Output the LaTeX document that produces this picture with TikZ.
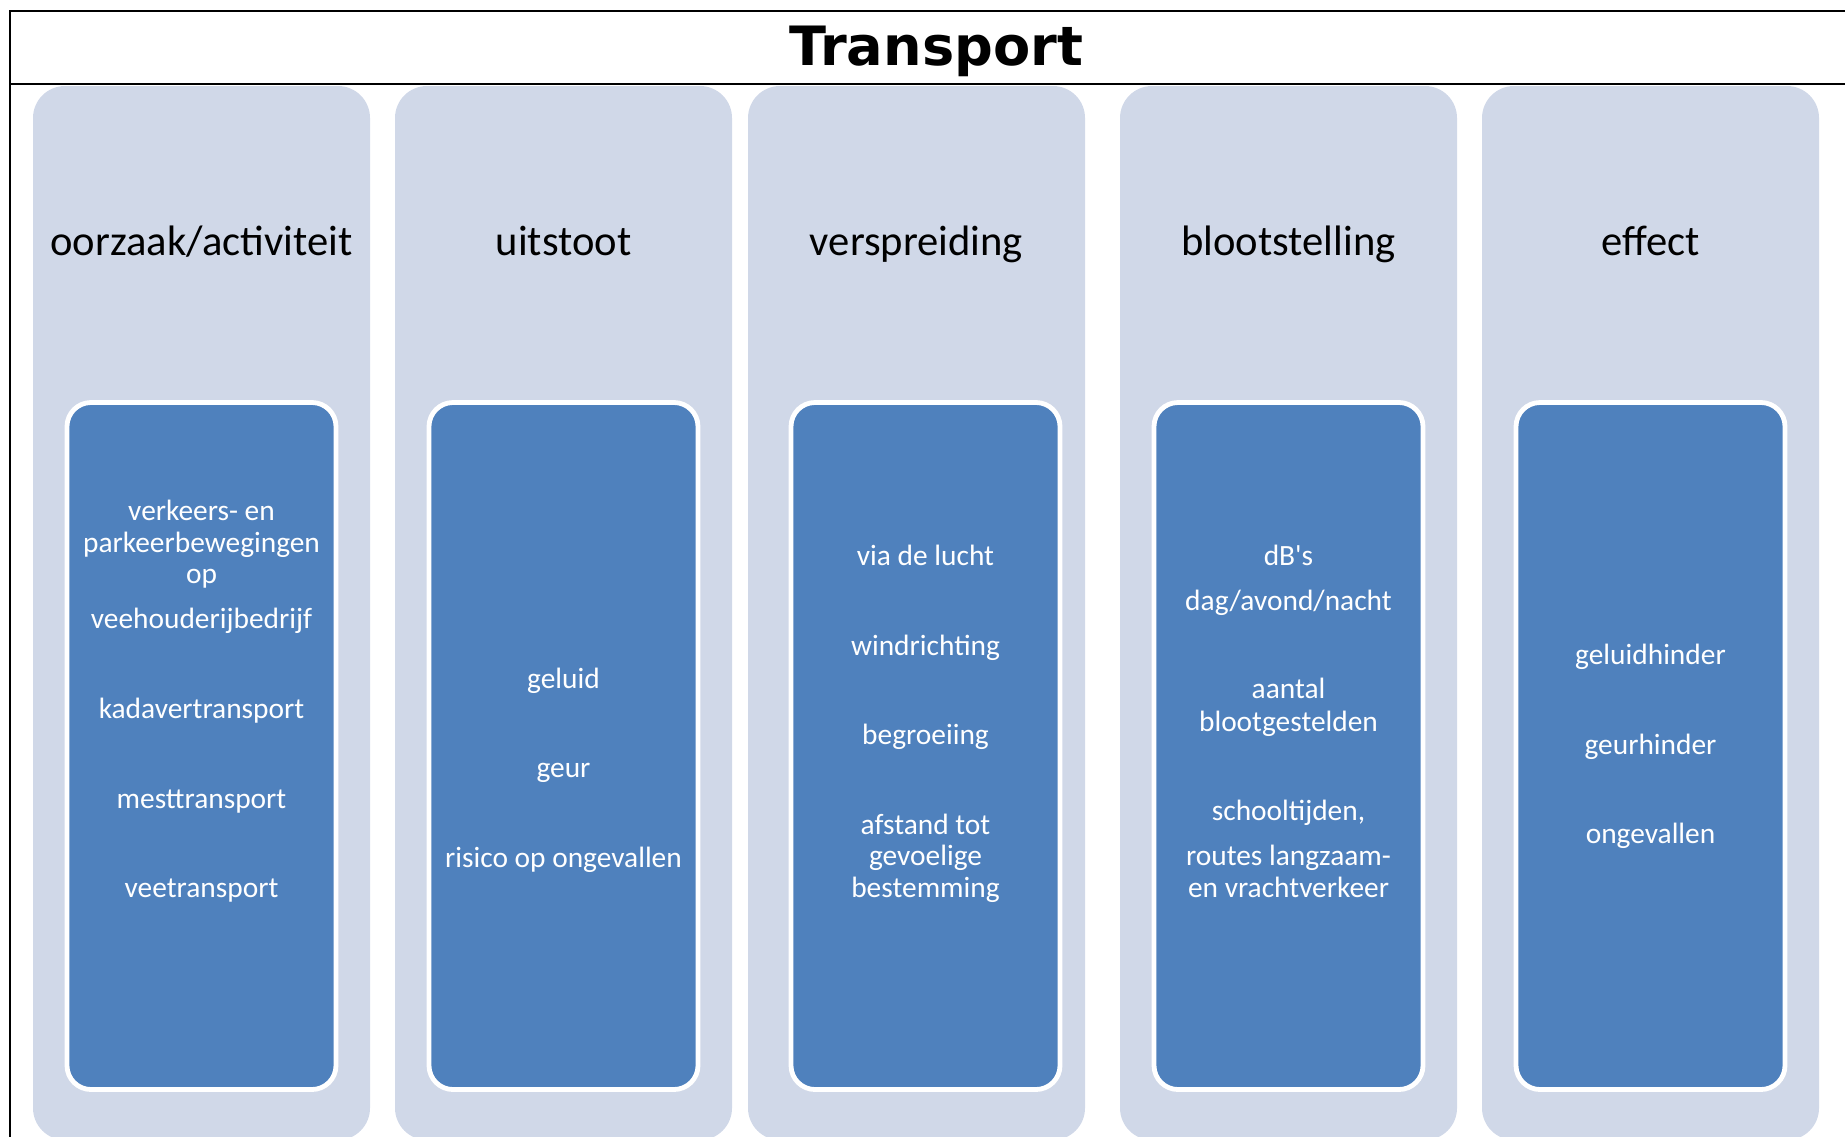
\documentclass[tikz,border=0pt]{standalone}
\usepackage{fontspec}
\setmainfont{Carlito}[Ligatures=TeXOff]
\newfontfamily\titlefont{DejaVu Sans}

\definecolor{kolom}{HTML}{D0D8E8}
\definecolor{vak}{HTML}{4F81BD}

\tikzset{
  kolombox/.style={fill=kolom, rounded corners=16pt},
  vakbox/.style={fill=vak, draw=white, line width=2.4pt, rounded corners=12pt},
  kop/.style={anchor=base, inner sep=0pt, font=\fontsize{21.3}{25}\selectfont},
  regel/.style={anchor=base, inner sep=0pt, text=white, font=\fontsize{14.7}{16}\selectfont},
  kader/.style={line width=1pt, black}
}

\begin{document}
\begin{tikzpicture}[x=0.5pt, y=-0.5pt]
  \useasboundingbox (0,0) rectangle (1845,1136);
  \clip (0,0) rectangle (1845,1136);

  % kader met titel
  \draw[kader] (1860,11) -- (10,11) -- (10,1140);
  \draw[kader] (10,84) -- (1860,84);
  \node (titel) at (936,65) [anchor=base, inner sep=0pt,
    font=\titlefont\bfseries\fontsize{27.1}{30}\selectfont] {Transport};

  % kolommen met kop en vak
  \foreach \l/\v/\kop [count=\i] in {33/67/{oorzaak/activiteit}, 395/429/uitstoot,
      748/791/verspreiding, 1120/1154/blootstelling, 1482/1516/effect} {
    \fill[kolombox] (\l,86) rectangle ++(337,1054);
    \draw[vakbox] (\v,402.5) rectangle ++(269,687);
    \node[kop] (kop\i) at (\l+168.5,255) {\kop};
  }

  % teksten in de vakken
  \foreach \y/\t [count=\j] in {520/verkeers- en, 552/parkeerbewegingen, 583/op,
      628/veehouderijbedrijf, 718/kadavertransport, 808/mesttransport, 897/veetransport}
    \node[regel] (oorzaak\j) at (201.5,\y) {\t};
  \foreach \y/\t [count=\j] in {688/geluid, 777/geur, 867/risico op ongevallen}
    \node[regel] (uitstoot\j) at (563.5,\y) {\t};
  \foreach \y/\t [count=\j] in {565/via de lucht, 655/windrichting, 744/begroeiing,
      834/afstand tot, 865/gevoelige, 897/bestemming}
    \node[regel] (verspreiding\j) at (925.5,\y) {\t};
  \foreach \y/\t [count=\j] in {565/dB's, 610/{dag/avond/nacht}, 698/aantal,
      731/blootgestelden, 820/{schooltijden,}, 865/routes langzaam-, 897/en vrachtverkeer}
    \node[regel] (blootstelling\j) at (1288.5,\y) {\t};
  \foreach \y/\t [count=\j] in {664/geluidhinder, 754/geurhinder, 843/ongevallen}
    \node[regel] (effect\j) at (1650.5,\y) {\t};
\end{tikzpicture}
\end{document}
